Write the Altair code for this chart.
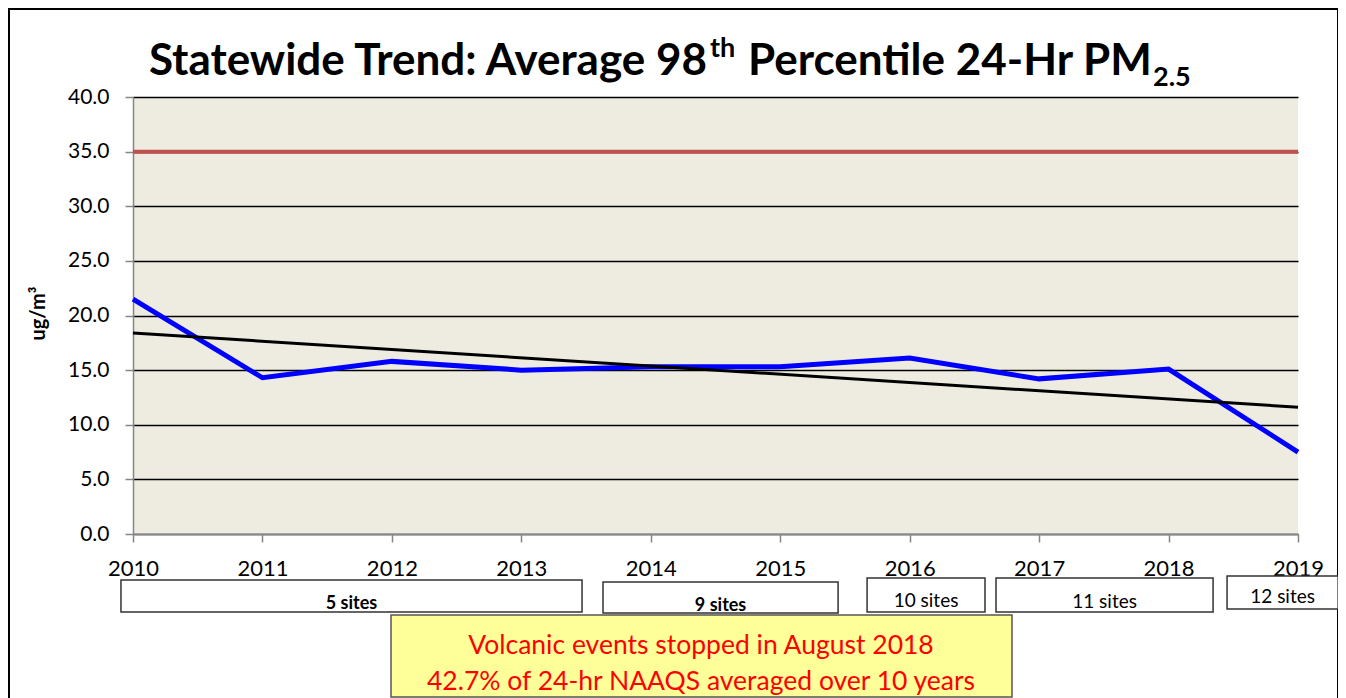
import altair as alt
import pandas as pd

# ---- data ----
years = [2010, 2011, 2012, 2013, 2014, 2015, 2016, 2017, 2018, 2019]
pm25 = [21.5, 14.3, 15.8, 15.0, 15.3, 15.3, 16.1, 14.2, 15.1, 7.5]
trend_years = [2010, 2019]
trend_vals = [18.4, 11.6]
naaqs = 35.0

site_labels = ["5 sites", "9 sites", "10 sites", "11 sites", "12 sites"]
site_x0 = [2009.907, 2013.631, 2015.671, 2016.667, 2018.452]
site_x1 = [2013.469, 2015.447, 2016.582, 2018.344, 2019.31]
site_bold = [True, True, False, False, False]

note_lines = ["Volcanic events stopped in August 2018",
              "42.7% of 24-hr NAAQS averaged over 10 years"]

W, H = 1165, 437
FONT = "Lato"
OX, OY = 133, 97  # plot origin on the page

df = pd.DataFrame({"year": years, "val": pm25})
tdf = pd.DataFrame({"year": trend_years, "val": trend_vals})
ndf = pd.DataFrame({"val": [naaqs]})

xs = alt.Scale(domain=[2010, 2019], nice=False, zero=False)
ys = alt.Scale(domain=[0, 40], nice=False)

xaxis = alt.Axis(values=years, format="d", grid=False, labelFontSize=22, labelFont=FONT,
                 labelColor="black", domainColor="#868686", tickColor="#868686",
                 tickSize=8, domainWidth=1.5, tickWidth=1.5, labelPadding=16,
                 labelFlush=False, labelOverlap=False, title=None)
yaxis = alt.Axis(values=[0, 5, 10, 15, 20, 25, 30, 35, 40], format=".1f", grid=True,
                 gridColor="black", gridWidth=1.5, labelFontSize=21, labelFont=FONT,
                 labelColor="black", domainColor="#868686", tickColor="#868686",
                 tickSize=8, domainWidth=1.5, tickWidth=1.5, labelPadding=16,
                 title="ug/m³", titleFont=FONT, titleFontSize=20, titleFontWeight="bold",
                 titleX=-95, titleY=216, titleAngle=270, titleAlign="center",
                 titleBaseline="middle", labelFlush=False)

base = alt.Chart(df).mark_line(color="#0000ff", strokeWidth=5).encode(
    x=alt.X("year:Q", scale=xs, axis=xaxis),
    y=alt.Y("val:Q", scale=ys, axis=yaxis),
)

red = alt.Chart(ndf).mark_rule(color="#c0504d", strokeWidth=4).encode(y=alt.Y("val:Q", scale=ys))
trend = alt.Chart(tdf).mark_line(color="black", strokeWidth=3).encode(
    x=alt.X("year:Q", scale=xs), y=alt.Y("val:Q", scale=ys))

sdf = pd.DataFrame({"label": site_labels, "x0": site_x0, "x1": site_x1, "bold": site_bold,
                    "xm": [(a + b) / 2 for a, b in zip(site_x0, site_x1)]})
box_tops = [580, 582, 578, 578, 576]
box_bots = [612, 613, 612, 612, 609]
text_base = [609, 611, 607, 608, 603]
text_size = [18, 18, 19, 19, 19]
box_layers = []
for i in range(len(site_labels)):
    row = sdf.iloc[[i]]
    box_layers.append(alt.Chart(row).mark_rect(fill="white", stroke="#333333", strokeWidth=1.5).encode(
        x=alt.X("x0:Q", scale=xs), x2="x1:Q",
        y=alt.value(box_tops[i] - OY), y2=alt.value(box_bots[i] - OY)))
    box_layers.append(alt.Chart(row).mark_text(font=FONT, fontSize=text_size[i],
        fontWeight="bold" if site_bold[i] else "normal", color="black", baseline="alphabetic").encode(
        x=alt.X("xm:Q", scale=xs), y=alt.value(text_base[i] - OY), text="label:N"))

note_box = alt.Chart(pd.DataFrame({"a": [0]})).mark_rect(fill="#ffff99", stroke="#555555", strokeWidth=1.5).encode(
    x=alt.value(391 - OX), x2=alt.value(1012 - OX), y=alt.value(615 - OY), y2=alt.value(697 - OY))
note1 = alt.Chart(pd.DataFrame({"t": [note_lines[0]]})).mark_text(
    font=FONT, fontSize=26.5, color="#ff0000", baseline="alphabetic").encode(
    x=alt.value(701 - OX), y=alt.value(654 - OY), text="t:N")
note2 = alt.Chart(pd.DataFrame({"t": [note_lines[1]]})).mark_text(
    font=FONT, fontSize=26.5, color="#ff0000", baseline="alphabetic").encode(
    x=alt.value(701 - OX), y=alt.value(690 - OY), text="t:N")

frame = alt.Chart(pd.DataFrame({"a": [0]})).mark_rect(fill=None, stroke="black", strokeWidth=2).encode(
    x=alt.value(9 - OX), x2=alt.value(1338 - OX), y=alt.value(9 - OY), y2=alt.value(620))

def ttext(s, x, y, size, align):
    return alt.Chart(pd.DataFrame({"t": [s]})).mark_text(
        font=FONT, fontSize=size, fontWeight="bold", color="black", align=align, baseline="alphabetic"
    ).encode(x=alt.value(x - OX), y=alt.value(y - OY), text="t:N")

t1 = ttext("Statewide Trend: Average 98", 707, 75, 44, "right")
t2 = ttext("th", 710, 57, 27, "left")
t3 = ttext("Percentile 24-Hr PM", 748, 75, 44, "left")
t4 = ttext("2.5", 1153, 86, 27, "left")

chart = alt.layer(frame, red, base, trend, *box_layers, note_box, note1, note2, t1, t2, t3, t4).properties(
    width=W, height=H,
    autosize=alt.AutoSizeParams(type="none"),
    padding={"left": OX - 8, "top": OY - 8, "right": 40, "bottom": 164},
).configure(background="white").configure_view(fill="#eeece1", stroke=None)

chart.save("out.html", embed_options={"renderer": "svg", "actions": False})
